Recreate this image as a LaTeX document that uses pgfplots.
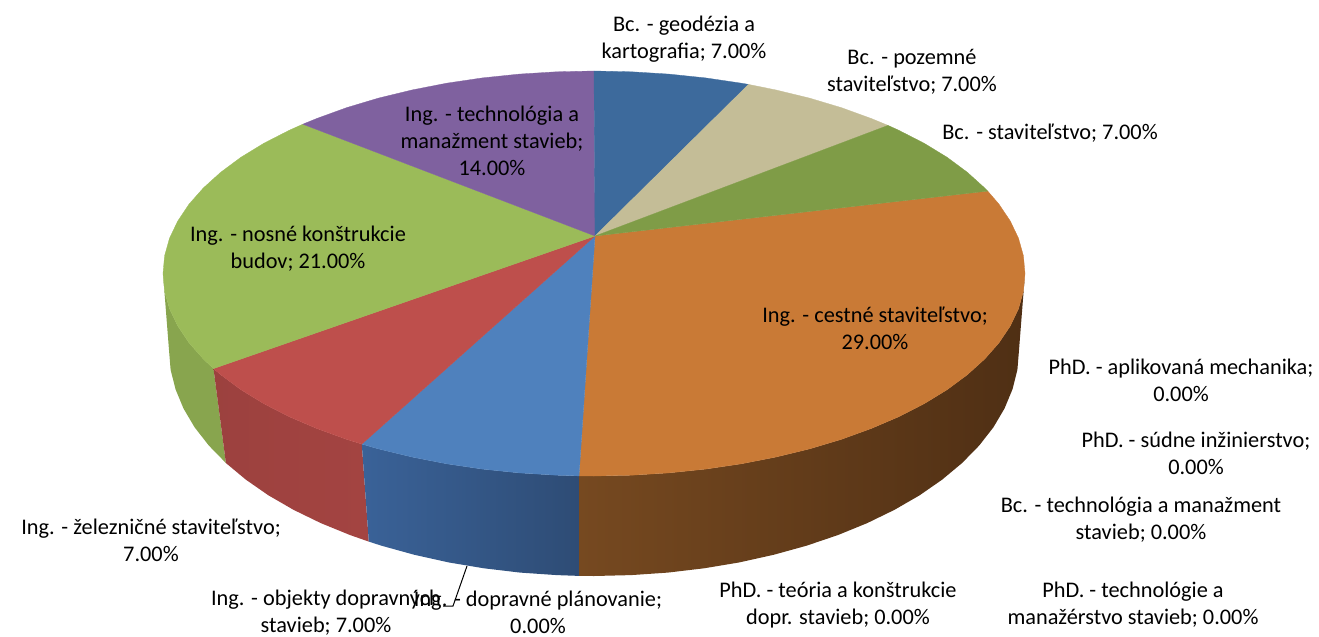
\documentclass[border=0pt]{standalone}
\usepackage{pgfplots}
\pgfplotsset{compat=1.18}
\usepackage{fontspec}
\setmainfont{Carlito}

\definecolor{cPurple}{HTML}{7F619F}
\definecolor{cGreen}{HTML}{9BBB59}
\definecolor{cRed}{HTML}{BE4F4C}
\definecolor{cBlue}{HTML}{4F81BD}
\definecolor{cOrange}{HTML}{C97A36}
\definecolor{cOlive}{HTML}{7F9C47}
\definecolor{cTan}{HTML}{C4BD97}
\definecolor{cDkBlue}{HTML}{3D6A9C}

\begin{document}
\begin{tikzpicture}
\begin{axis}[
    name=ax,
    scale only axis, width=1319bp, height=637bp,
    xmin=0, xmax=1319, ymin=0, ymax=637,
    y dir=reverse, hide axis, clip=false,
    nodes={font=\fontsize{22.4}{27}\selectfont, align=center, text=black, inner sep=0pt}
]
% side walls (pixel coordinates of the reference)
\addplot[draw=none, shade, left color=cGreen!88!black, right color=cGreen!88!black] coordinates {
    (213.5,368.6) (203.4,359.1) (189.0,342.8) (177.7,325.9) (169.5,308.7) (164.6,291.2) (163,273.5)
    (169,350) (170.6,369.7) (175.5,389.2) (183.5,408.5) (194.6,427.3) (208.8,445.5) (225.9,463.0)
} --cycle;
\addplot[draw=none, shade, left color=cRed!82!black, right color=cRed!86!black] coordinates {
    (361.8,444.1) (346.8,439.4) (317.0,428.6) (289.2,416.7) (263.8,403.7) (240.9,389.7) (220.8,374.8) (213.5,368.6)
    (225.9,463.0) (245.8,479.6) (268.4,495.3) (293.5,509.8) (320.8,523.1) (350.2,535.1) (368.8,541.6)
} --cycle;
\addplot[draw=none, shade, left color={rgb,255:red,58;green,98;blue,152}, right color={rgb,255:red,46;green,76;blue,117}] coordinates {
    (579.0,475.9) (556.4,475.2) (519.2,472.9) (482.5,469.1) (446.6,463.8) (411.9,457.0) (378.5,448.9) (361.8,444.1)
    (368.8,541.6) (381.5,545.7) (414.4,554.8) (448.6,562.4) (484.0,568.3) (520.2,572.6) (556.9,575.1) (579.2,575.9)
} --cycle;
\addplot[draw=none, shade, left color={rgb,255:red,118;green,73;blue,32}, middle color={rgb,255:red,86;green,51;blue,23}, right color={rgb,255:red,79;green,47;blue,20}] coordinates {
    (1025,273.5) (1023.4,291.2) (1018.5,308.7) (1010.3,325.9) (999.0,342.8) (984.6,359.1) (967.2,374.8) (947.1,389.7)
    (924.2,403.7) (898.8,416.7) (871.0,428.6) (841.2,439.4) (809.5,448.9) (776.1,457.0) (741.4,463.8) (705.5,469.1)
    (668.8,472.9) (631.6,475.2) (594,476) (579.0,475.9)
    (579.2,575.9) (594,576) (631.1,575.1) (667.8,572.6) (704.0,568.3) (739.4,562.4) (773.6,554.8) (806.5,545.7)
    (837.8,535.1) (867.2,523.1) (894.5,509.8) (919.6,495.3) (942.2,479.6) (962.1,463.0) (979.2,445.5) (993.4,427.3)
    (1004.5,408.5) (1012.5,389.2) (1017.4,369.7) (1019,350)
} --cycle;
% top slices
\addplot[draw=cOrange, line width=.3pt, fill=cOrange] coordinates {
    (595,236) (987.7,191.1) (999.0,204.2) (1010.3,221.1) (1018.5,238.3) (1023.4,255.8) (1025,273.5)
    (1023.4,291.2) (1018.5,308.7) (1010.3,325.9) (999.0,342.8) (984.6,359.1) (967.2,374.8) (947.1,389.7)
    (924.2,403.7) (898.8,416.7) (871.0,428.6) (841.2,439.4) (809.5,448.9) (776.1,457.0) (741.4,463.8) (705.5,469.1)
    (668.8,472.9) (631.6,475.2) (594,476) (579.0,475.9)
} --cycle;
\addplot[draw=cBlue, line width=.3pt, fill=cBlue] coordinates {
    (595,236) (579.0,475.9) (556.4,475.2) (519.2,472.9) (482.5,469.1) (446.6,463.8) (411.9,457.0) (378.5,448.9) (361.8,444.1)
} --cycle;
\addplot[draw=cRed, line width=.3pt, fill=cRed] coordinates {
    (595,236) (361.8,444.1) (346.8,439.4) (317.0,428.6) (289.2,416.7) (263.8,403.7) (240.9,389.7) (220.8,374.8) (213.5,368.6)
} --cycle;
\addplot[draw=cGreen, line width=.3pt, fill=cGreen] coordinates {
    (595,236) (213.5,368.6) (203.4,359.1) (189.0,342.8) (177.7,325.9) (169.5,308.7) (164.6,291.2) (163,273.5)
    (164.6,255.8) (169.5,238.3) (177.7,221.1) (189.0,204.2) (203.4,187.9) (220.8,172.2) (240.9,157.3) (263.8,143.3)
    (289.2,130.3) (302.8,124.2)
} --cycle;
\addplot[draw=cPurple, line width=.3pt, fill=cPurple] coordinates {
    (595,236) (302.8,124.2) (317.0,118.4) (346.8,107.6) (378.5,98.1) (411.9,90.0) (446.6,83.2) (482.5,77.9)
    (519.2,74.1) (556.4,71.8) (594,71)
} --cycle;
\addplot[draw=cDkBlue, line width=.3pt, fill=cDkBlue] coordinates {
    (595,236) (594,71) (631.6,71.8) (668.8,74.1) (705.5,77.9) (741.4,83.2) (748.5,84.4)
} --cycle;
\addplot[draw=cTan, line width=.3pt, fill=cTan] coordinates {
    (595,236) (748.5,84.4) (776.1,90.0) (809.5,98.1) (841.2,107.6) (871.0,118.4) (888.0,125.4)
} --cycle;
\addplot[draw=cOlive, line width=.3pt, fill=cOlive] coordinates {
    (595,236) (888.0,125.4) (898.8,130.3) (924.2,143.3) (947.1,157.3) (967.2,172.2) (984.6,187.9) (987.7,191.1)
} --cycle;
% leader line
\addplot[black, line width=1pt] coordinates {(467,566) (453,606) (443,606)};
% labels
\node at (axis cs:684,39) {Bc. - geodézia a\\kartografia; 7.00\%};
\node at (axis cs:912,72) {Bc. - pozemné\\staviteľstvo; 7.00\%};
\node at (axis cs:1050,133) {Bc. - staviteľstvo; 7.00\%};
\node at (axis cs:492,141) {Ing. - technológia a\\manažment stavieb;\\14.00\%};
\node at (axis cs:298,249) {Ing. - nosné konštrukcie\\budov; 21.00\%};
\node at (axis cs:875,328) {Ing. - cestné staviteľstvo;\\29.00\%};
\node at (axis cs:1181,380) {PhD. - aplikovaná mechanika;\\0.00\%};
\node at (axis cs:1196,453) {PhD. - súdne inžinierstvo;\\0.00\%};
\node at (axis cs:1141,520) {Bc. - technológia a manažment\\stavieb; 0.00\%};
\node at (axis cs:1133,605) {PhD. - technológie a\\manažérstvo stavieb; 0.00\%};
\node at (axis cs:838,605) {PhD. - teória a konštrukcie\\dopr. stavieb; 0.00\%};
\node at (axis cs:538,612.5) {Ing. - dopravné plánovanie;\\0.00\%};
\node at (axis cs:326,612.5) {Ing. - objekty dopravných\\stavieb; 7.00\%};
\node at (axis cs:151,540) {Ing. - železničné staviteľstvo;\\7.00\%};
\end{axis}
\path (ax.south west) rectangle (ax.north east);
\end{tikzpicture}
\end{document}
